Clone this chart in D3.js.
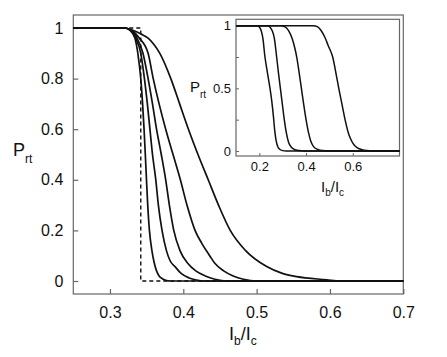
<!DOCTYPE html>
<html>
<head>
<meta charset="utf-8">
<script src="https://cdn.jsdelivr.net/npm/d3@7"></script>
<style>
  body { margin: 0; background: #fff; }
  text { font-family: "Liberation Sans", Arial, sans-serif; fill: #111; }
</style>
</head>
<body>
<div id="chart"></div>
<script>
// main panel data: switching probability vs bias current
var curve1 = [[0.25,1],[0.32,1],[0.328,0.99],[0.334,0.96],[0.338,0.9],[0.342,0.8],[0.3445,0.7],[0.3465,0.6],[0.3482,0.5],[0.3498,0.4],[0.3515,0.3],[0.3538,0.2],[0.3572,0.12],[0.3605,0.07],[0.3635,0.04],[0.367,0.02],[0.372,0.008],[0.377,0.002],[0.382,0],[0.7,0]];
var curve2 = [[0.25,1],[0.32,1],[0.328,0.99],[0.335,0.96],[0.342,0.9],[0.347,0.8],[0.351,0.7],[0.3545,0.6],[0.358,0.5],[0.3625,0.4],[0.366,0.3],[0.371,0.2],[0.377,0.12],[0.382,0.08],[0.3887,0.057],[0.397,0.03],[0.408,0.012],[0.418,0.004],[0.428,0],[0.7,0]];
var curve3 = [[0.25,1],[0.32,1],[0.329,0.99],[0.336,0.965],[0.345,0.9],[0.352,0.8],[0.358,0.7],[0.3635,0.6],[0.37,0.5],[0.376,0.4],[0.381,0.3],[0.387,0.2],[0.3955,0.12],[0.406,0.07],[0.417,0.04],[0.43,0.02],[0.443,0.007],[0.46,0],[0.7,0]];
var curve4 = [[0.25,1],[0.32,1],[0.33,0.99],[0.34,0.96],[0.352,0.9],[0.359,0.8],[0.367,0.7],[0.376,0.6],[0.386,0.5],[0.396,0.4],[0.405,0.3],[0.416,0.2],[0.425,0.15],[0.436,0.1],[0.443,0.07],[0.455,0.04],[0.468,0.02],[0.482,0.007],[0.5,0],[0.7,0]];
var curve5 = [[0.25,1],[0.32,1],[0.332,0.99],[0.343,0.975],[0.352,0.96],[0.36,0.935],[0.368,0.9],[0.383,0.8],[0.395,0.7],[0.407,0.6],[0.42,0.5],[0.434,0.4],[0.448,0.3],[0.464,0.2],[0.485,0.12],[0.5137,0.057],[0.535,0.03],[0.5547,0.017],[0.5955,0.005],[0.614,0],[0.7,0]];
var stepCurve = [[0.25,1],[0.342,1],[0.342,0],[0.7,0]];

// inset data
var insetA = [[0.1,1],[0.19,1],[0.2,0.99],[0.208,0.96],[0.215,0.9],[0.224,0.75],[0.235,0.62],[0.2456,0.5],[0.253,0.4],[0.26,0.28],[0.266,0.16],[0.272,0.08],[0.28,0.03],[0.29,0.01],[0.3,0.003],[0.315,0],[0.8,0]];
var insetB = [[0.1,1],[0.235,1],[0.245,0.99],[0.255,0.96],[0.264,0.9],[0.274,0.75],[0.282,0.62],[0.29,0.5],[0.298,0.38],[0.306,0.26],[0.315,0.15],[0.325,0.07],[0.337,0.03],[0.35,0.012],[0.37,0.003],[0.39,0],[0.8,0]];
var insetC = [[0.1,1],[0.29,1],[0.31,0.99],[0.325,0.96],[0.34,0.9],[0.352,0.82],[0.36,0.75],[0.37,0.63],[0.38,0.5],[0.39,0.37],[0.4,0.25],[0.41,0.15],[0.42,0.08],[0.432,0.035],[0.45,0.012],[0.47,0.003],[0.5,0],[0.8,0]];
var insetD = [[0.1,1],[0.43,1],[0.45,0.99],[0.465,0.96],[0.48,0.91],[0.495,0.84],[0.514,0.75],[0.53,0.6],[0.54,0.5],[0.553,0.38],[0.567,0.25],[0.58,0.15],[0.59,0.1],[0.605,0.05],[0.62,0.025],[0.64,0.01],[0.66,0.003],[0.68,0],[0.8,0]];

var xTicks = [0.3, 0.4, 0.5, 0.6, 0.7];
var yTicks = [0, 0.2, 0.4, 0.6, 0.8, 1];
var insetXTicks = [0.2, 0.4, 0.6];
var insetYTicks = [0, 0.5, 1];
var insetYMinor = [0.25, 0.75];

var svgWidth = 447;
var svgHeight = 357;

var svg = d3.select("#chart")
  .append("svg")
  .attr("width", svgWidth)
  .attr("height", svgHeight);

var xScale = d3.scaleLinear().domain([0.25, 0.7]).range([73.3, 403.3]);
var yScale = d3.scaleLinear().domain([-0.0514, 1.0514]).range([294, 15]);

var line = d3.line()
  .x(d => xScale(d[0]))
  .y(d => yScale(d[1]))
  .curve(d3.curveMonotoneX);

// frame
svg.append("rect")
  .attr("x", 73.3).attr("y", 15)
  .attr("width", 330).attr("height", 279)
  .attr("fill", "none")
  .attr("stroke", "#666")
  .attr("stroke-width", 1.2);

var bottomAxis = d3.axisBottom(xScale)
  .tickValues(xTicks)
  .tickSize(-5)
  .tickPadding(13)
  .tickFormat(d3.format(".1f"));

var leftAxis = d3.axisLeft(yScale)
  .tickValues(yTicks)
  .tickSize(-5)
  .tickPadding(10)
  .tickFormat(d => d === 0 || d === 1 ? d : d3.format(".1f")(d));

var gx = svg.append("g")
  .attr("transform", "translate(0,294)")
  .call(bottomAxis);
var gy = svg.append("g")
  .attr("transform", "translate(73.3,0)")
  .call(leftAxis);

[gx, gy].forEach(function(g) {
  g.select(".domain").remove();
  g.selectAll("line").attr("stroke", "#666").attr("stroke-width", 1.2);
  g.selectAll("text").attr("font-size", 16).attr("font-family", "Liberation Sans, Arial, sans-serif").attr("fill", "#111");
});

// dashed step
svg.append("path")
  .attr("d", d3.line().x(d => xScale(d[0])).y(d => yScale(d[1]))(stepCurve))
  .attr("fill", "none")
  .attr("stroke", "#111")
  .attr("stroke-width", 1.4)
  .attr("stroke-dasharray", "4,3");

var mainCurves = [curve1, curve2, curve3, curve4, curve5];
svg.selectAll(".main-curve")
  .data(mainCurves)
  .enter()
  .append("path")
  .attr("class", "main-curve")
  .attr("d", line)
  .attr("fill", "none")
  .attr("stroke", "#111")
  .attr("stroke-width", 1.7);

// axis labels
var yLab = svg.append("text").attr("x", 13).attr("y", 156).attr("font-size", 18);
yLab.append("tspan").text("P");
yLab.append("tspan").attr("font-size", 12).attr("dy", 7).text("rt");

var xLab = svg.append("text").attr("x", 229).attr("y", 340).attr("font-size", 18);
xLab.append("tspan").text("I");
xLab.append("tspan").attr("font-size", 12).attr("dy", 5).text("b");
xLab.append("tspan").attr("dy", -5).text("/I");
xLab.append("tspan").attr("font-size", 12).attr("dy", 5).text("c");

// inset
var ix = d3.scaleLinear().domain([0.1, 0.8]).range([236, 399.5]);
var iy = d3.scaleLinear().domain([-0.04, 1.051]).range([156, 19.3]);

var insetLine = d3.line()
  .x(d => ix(d[0]))
  .y(d => iy(d[1]))
  .curve(d3.curveMonotoneX);

svg.append("rect")
  .attr("x", 236).attr("y", 19.3)
  .attr("width", 163.5).attr("height", 136.7)
  .attr("fill", "#fff")
  .attr("stroke", "#666")
  .attr("stroke-width", 1.2);

var igx = svg.append("g")
  .attr("transform", "translate(0,156)")
  .call(d3.axisBottom(ix).tickValues(insetXTicks).tickSize(-3).tickPadding(6).tickFormat(d3.format(".1f")));
var igy = svg.append("g")
  .attr("transform", "translate(236,0)")
  .call(d3.axisLeft(iy).tickValues(insetYTicks).tickSize(-3).tickPadding(5).tickFormat(d => d === 0.5 ? "0.5" : d));
var igyMinor = svg.append("g")
  .attr("transform", "translate(236,0)")
  .call(d3.axisLeft(iy).tickValues(insetYMinor).tickSize(-3).tickFormat(""));

[igx, igy, igyMinor].forEach(function(g) {
  g.select(".domain").remove();
  g.selectAll("line").attr("stroke", "#666").attr("stroke-width", 1);
  g.selectAll("text").attr("font-size", 13).attr("font-family", "Liberation Sans, Arial, sans-serif").attr("fill", "#111");
});

svg.selectAll(".inset-curve")
  .data([insetA, insetB, insetC, insetD])
  .enter()
  .append("path")
  .attr("class", "inset-curve")
  .attr("d", insetLine)
  .attr("fill", "none")
  .attr("stroke", "#111")
  .attr("stroke-width", 1.5);

var iyLab = svg.append("text").attr("x", 190).attr("y", 92).attr("font-size", 15);
iyLab.append("tspan").text("P");
iyLab.append("tspan").attr("font-size", 10).attr("dy", 6).text("rt");

var ixLab = svg.append("text").attr("x", 321).attr("y", 192).attr("font-size", 15);
ixLab.append("tspan").text("I");
ixLab.append("tspan").attr("font-size", 10).attr("dy", 4).text("b");
ixLab.append("tspan").attr("dy", -4).text("/I");
ixLab.append("tspan").attr("font-size", 10).attr("dy", 4).text("c");
</script>
</body>
</html>
